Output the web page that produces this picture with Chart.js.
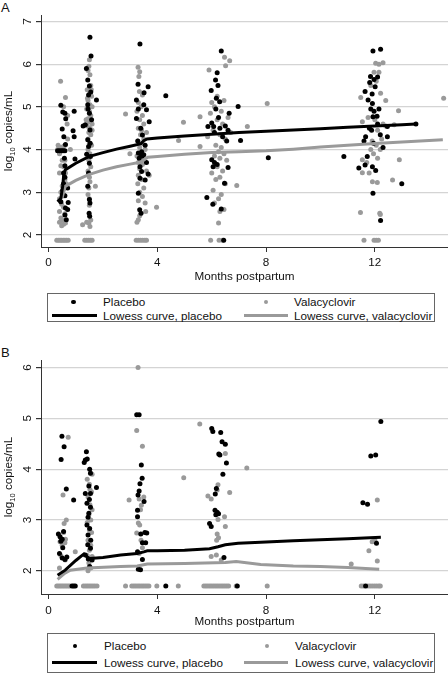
<!DOCTYPE html>
<html>
<head>
<meta charset="utf-8">
<script src="https://cdn.jsdelivr.net/npm/chart.js@4.4.1/dist/chart.umd.min.js"></script>
<style>
body { margin: 0; background: #fff; width: 448px; height: 673px; position: relative; overflow: hidden;
       font-family: "Liberation Sans", Arial, sans-serif; color: #111; }
canvas { position: absolute; left: 0; }
.tag { position: absolute; font-size: 13px; line-height: 13px; }
.legend { position: absolute; left: 47px; width: 388px; border: 1px solid #666; box-sizing: border-box; font-size: 11.7px; }
.legend span { position: absolute; white-space: nowrap; line-height: 14px; transform: translateY(-50%); }
.legend i { position: absolute; display: block; }
</style>
</head>
<body>
<div class="tag" style="left:1px;top:1px">A</div>
<canvas id="chartA" width="448" height="285" style="top:0"></canvas>
<div class="legend" style="top:293px;height:29px">
  <i style="left:23px;top:5.5px;width:4.5px;height:4.5px;border-radius:50%;background:#000"></i>
  <span style="left:55px;top:8px">Placebo</span>
  <i style="left:216px;top:5.5px;width:4px;height:4px;border-radius:50%;background:#9a9a9a"></i>
  <span style="left:246px;top:8px">Valacyclovir</span>
  <i style="left:4px;top:20px;width:45px;height:3px;background:#000"></i>
  <span style="left:55px;top:21.5px">Lowess curve, placebo</span>
  <i style="left:196px;top:20px;width:44px;height:3px;background:#9a9a9a"></i>
  <span style="left:246px;top:21.5px">Lowess curve, valacyclovir</span>
</div>

<div class="tag" style="left:1px;top:346px">B</div>
<canvas id="chartB" width="448" height="290" style="top:340px"></canvas>
<div class="legend" style="top:633px;height:40px">
  <i style="left:24.5px;top:9.5px;width:4.5px;height:4.5px;border-radius:50%;background:#000"></i>
  <span style="left:56px;top:12px">Placebo</span>
  <i style="left:216.5px;top:9.5px;width:4px;height:4px;border-radius:50%;background:#9a9a9a"></i>
  <span style="left:247px;top:12px">Valacyclovir</span>
  <i style="left:4px;top:27px;width:45px;height:3px;background:#000"></i>
  <span style="left:56px;top:28.5px">Lowess curve, placebo</span>
  <i style="left:196px;top:27px;width:44px;height:3px;background:#9a9a9a"></i>
  <span style="left:247px;top:28.5px">Lowess curve, valacyclovir</span>
</div>

<script>
// ---- axis ticks ----
const monthTicks = [0, 4, 8, 12];
const logTicksA = [2, 3, 4, 5, 6, 7];
const logTicksB = [2, 3, 4, 5, 6];

// ---- panel A: [months, log10 copies/mL] ----
const placeboA = [
  [0.45,5.04],[0.52,4.88],[0.6,4.85],[0.63,4.72],[0.5,4.48],[0.56,4.3],[0.62,4.12],[0.33,3.97],[0.4,3.97],[0.47,3.97],
  [0.53,3.97],[0.6,3.97],[0.58,3.8],[0.6,3.62],[0.55,3.45],[0.6,3.35],[0.55,3.2],[0.52,3.05],[0.6,2.92],[0.45,2.78],
  [0.72,2.76],[0.7,2.6],[0.62,2.63],[0.6,2.47],[0.65,2.36],[0.94,4.9],[0.9,4.44],[0.94,4.3],[0.97,3.78],[0.7,3.1],
  [1.52,6.63],[1.56,6.19],[1.39,5.9],[1.44,5.63],[1.5,5.49],[1.47,5.28],[1.76,5.16],[1.44,5.05],[1.5,4.85],[1.35,4.58],
  [1.52,4.46],[1.44,4.23],[1.53,4.15],[1.47,4.07],[1.4,3.89],[1.5,3.68],[1.47,3.45],[1.44,3.14],[1.5,2.83],[1.52,2.75],
  [1.49,2.51],[1.51,2.44],[1.55,5.35],[1.45,4.95],[1.58,4.7],[1.27,4.55],[1.54,3.84],
  [3.36,6.47],[3.29,5.53],[3.66,5.47],[4.31,5.26],[3.23,5.16],[3.51,5.33],[3.6,4.93],[3.23,4.73],[3.7,4.65],[3.39,4.5],
  [3.45,4.34],[3.3,3.92],[3.38,3.9],[3.45,3.85],[3.33,3.8],[3.42,3.95],[3.5,3.88],[3.36,3.6],[3.42,3.49],[3.66,3.43],
  [3.36,3.33],[3.55,3.29],[3.3,2.98],[3.35,2.59],[3.4,2.51],[3.5,5.05],[3.3,4.95],[3.55,4.1],[3.28,4.2],[3.6,3.7],
  [6.35,6.31],[6.2,5.8],[6.14,5.63],[6.23,5.5],[5.98,5.38],[6.17,5.2],[6.29,5.12],[6.97,5.01],[6.64,4.85],[6.07,4.54],
  [5.86,4.54],[6.3,4.5],[7.06,4.21],[6.0,4.62],[6.5,4.55],[6.1,4.4],[6.4,4.3],[6.55,4.2],[6.0,3.76],[6.1,3.7],
  [6.2,3.65],[6.05,3.6],[6.6,3.58],[6.47,3.21],[5.82,2.88],[6.04,2.72],[6.35,2.61],[6.44,1.88],[8.08,3.81],[6.25,4.75],
  [6.15,4.95],[6.6,4.45],
  [11.93,6.31],[12.21,6.35],[11.84,5.71],[11.97,5.64],[12.1,5.7],[11.81,5.57],[11.64,5.36],[12.01,5.47],[11.75,5.16],[11.91,5.08],
  [11.85,4.95],[11.97,4.9],[12.15,4.95],[12.08,4.78],[11.93,4.77],[13.51,4.6],[12.46,4.54],[11.8,4.5],[11.88,4.45],[11.66,4.3],
  [12.2,4.35],[12.46,4.3],[11.6,4.2],[11.95,4.15],[12.3,4.05],[11.72,3.84],[11.41,3.57],[11.64,3.64],[11.91,3.6],[12.03,3.51],
  [12.99,3.2],[11.93,2.98],[12.21,2.34],[10.86,3.84],[12.1,4.6],[11.9,5.3]
];
const valacyclovirA = [
  [0.44,5.6],[0.62,5.22],[0.55,5.0],[0.7,4.25],[0.35,4.1],[0.45,4.05],[0.55,4.08],[0.6,4.1],[0.5,4.02],[0.4,3.9],
  [0.5,3.75],[0.45,3.62],[0.55,3.6],[0.4,3.45],[0.6,3.3],[0.5,3.15],[0.65,3.2],[0.45,3.0],[0.55,2.95],[0.4,2.85],
  [0.48,2.72],[0.55,2.65],[0.4,2.55],[0.6,2.5],[0.45,2.4],[0.5,2.35],[0.4,2.3],[0.55,2.25],[0.48,2.22],[0.62,2.28],
  [0.68,4.6],[0.7,4.8],[0.33,4.0],[0.8,4.0],[0.6,3.75],[0.62,3.45],
  [0.3,1.88],[0.36,1.88],[0.42,1.88],[0.48,1.88],[0.54,1.88],[0.6,1.88],[0.66,1.88],[0.72,1.88],
  [1.5,6.1],[1.48,5.95],[1.45,5.85],[1.52,5.75],[1.55,5.5],[1.42,5.4],[1.5,5.3],[1.58,5.25],[1.45,5.15],[1.52,5.05],
  [1.6,5.0],[1.4,4.95],[1.5,4.9],[1.55,4.8],[1.45,4.72],[1.5,4.65],[1.6,4.6],[1.42,4.55],[1.52,4.5],[1.48,4.4],
  [1.55,4.35],[1.45,4.25],[1.5,4.15],[1.58,4.1],[1.45,4.0],[1.52,3.9],[1.48,3.75],[1.55,3.6],[1.45,3.5],[1.5,3.35],
  [1.52,3.25],[1.48,3.1],[1.72,3.14],[1.45,2.95],[1.5,2.85],[1.5,2.7],[1.25,2.24],[1.52,2.2],[1.48,2.28],[1.55,2.35],
  [1.4,2.3],[1.57,5.4],[1.43,5.2],[1.6,4.45],[1.38,4.7],
  [1.33,1.88],[1.4,1.88],[1.47,1.88],[1.54,1.88],[1.6,1.88],
  [3.29,5.93],[3.35,5.82],[3.32,5.71],[3.34,5.36],[3.45,5.28],[2.83,4.83],[4.96,4.64],[4.78,4.21],[3.97,2.65],[2.99,3.9],
  [3.3,5.1],[3.4,5.0],[3.25,4.9],[3.45,4.8],[3.35,4.7],[3.5,4.6],[3.3,4.5],[3.42,4.45],[3.38,4.35],[3.5,4.25],
  [3.28,4.2],[3.45,4.15],[3.35,4.05],[3.55,4.0],[3.25,3.85],[3.4,3.8],[3.48,3.75],[3.3,3.7],[3.45,3.65],[3.35,3.55],
  [3.6,3.5],[3.3,3.4],[3.42,3.3],[3.28,3.2],[3.5,3.1],[3.35,3.0],[3.45,2.9],[3.3,2.8],[3.55,2.75],[3.57,2.55],
  [3.35,2.45],[3.3,2.36],[3.25,2.3],[3.7,3.4],[3.6,4.4],
  [3.22,1.88],[3.3,1.88],[3.38,1.88],[3.46,1.88],[3.54,1.88],[3.6,1.88],
  [6.47,6.16],[6.66,6.08],[5.9,5.86],[6.51,5.96],[5.57,4.77],[5.57,4.07],[7.31,4.54],[6.92,3.16],[8.04,5.08],[6.25,2.28],
  [6.2,5.25],[6.0,5.1],[6.45,5.15],[6.1,5.0],[6.35,4.9],[5.95,4.85],[6.6,4.75],[6.2,4.7],[6.4,4.6],[6.05,4.45],
  [6.3,4.35],[6.5,4.25],[6.15,4.1],[6.35,4.05],[6.25,3.95],[6.45,3.9],[6.1,3.85],[6.3,3.8],[6.55,3.75],[6.2,3.6],
  [6.4,3.5],[6.0,3.45],[6.3,3.35],[6.15,3.3],[6.5,3.2],[6.05,3.05],[6.35,2.95],[6.25,2.85],[6.1,2.75],[6.45,2.6],
  [6.3,2.55],[6.7,4.4],[5.85,4.3],
  [5.96,1.88],[6.27,1.88],[6.4,1.88],
  [12.03,6.02],[12.15,6.0],[11.97,5.81],[12.15,5.81],[12.3,6.03],[12.21,5.32],[14.53,5.2],[12.87,4.91],[12.4,5.15],[11.54,4.65],
  [11.48,5.22],[12.71,4.58],[12.1,4.45],[12.25,4.25],[11.9,4.2],[12.05,4.1],[12.2,4.0],[11.85,4.0],[12.9,3.76],[12.65,3.29],
  [11.54,3.76],[11.79,3.45],[11.91,3.25],[12.09,3.23],[11.47,2.53],[12.18,2.51],[12.2,2.48],[11.54,3.46],[11.7,3.7],[11.95,3.9],
  [12.1,3.8],[12.3,4.6],[11.75,4.75],[12.0,4.7],[12.4,4.55],[11.85,5.5],[12.05,5.6],
  [11.6,1.88],[11.97,1.88],[12.05,1.88],[12.13,1.88]
];
const lowessPlaceboA = [
  [0.33,2.78],[0.45,2.86],[0.52,3.15],[0.56,3.45],[0.62,3.53],[1.0,3.68],[1.5,3.84],[2.0,3.93],[2.5,4.01],[3.0,4.08],
  [3.4,4.14],[3.5,4.21],[3.62,4.25],[4.0,4.27],[5.0,4.32],[6.0,4.36],[7.0,4.4],[8.0,4.43],[9.0,4.46],[10.0,4.49],
  [11.0,4.52],[12.0,4.55],[13.0,4.58],[13.51,4.6]
];
const lowessValacyclovirA = [
  [0.49,2.86],[0.55,3.0],[0.61,3.14],[1.0,3.28],[1.5,3.42],[2.0,3.52],[2.5,3.6],[3.0,3.66],[3.4,3.71],[3.55,3.78],
  [3.65,3.82],[4.0,3.84],[5.0,3.89],[6.0,3.93],[7.0,3.95],[8.0,3.97],[9.0,4.01],[10.0,4.06],[11.0,4.1],[12.0,4.14],
  [13.0,4.18],[14.5,4.23]
];

// ---- panel B ----
const placeboB = [
  [0.49,4.65],[0.57,4.44],[0.46,4.19],[0.65,3.61],[0.92,3.39],[0.36,2.72],[0.55,2.77],[0.42,2.67],[0.5,2.62],[0.4,2.34],
  [0.5,2.25],[0.6,2.22],[0.67,2.27],[0.45,2.58],[0.52,2.45],
  [0.86,1.7],[0.92,1.7],[0.98,1.7],
  [1.39,4.34],[1.35,4.18],[1.42,4.2],[1.31,4.13],[1.51,4.0],[1.54,3.92],[1.48,3.67],[1.76,3.64],[1.54,3.52],[1.35,3.52],
  [1.41,3.33],[1.54,3.25],[1.48,3.13],[1.41,2.9],[1.51,2.83],[1.45,2.7],[1.44,2.51],[1.54,2.44],[1.35,2.31],[1.46,2.23],
  [1.6,2.21],[1.51,2.08],[1.5,3.4],[1.45,3.05],[1.55,2.6],
  [3.24,5.07],[3.33,5.07],[3.41,4.08],[3.44,3.82],[3.36,3.71],[3.33,3.57],[3.29,3.49],[3.51,3.36],[3.27,3.19],[3.27,3.06],
  [3.54,2.75],[3.61,2.74],[3.39,2.72],[3.45,2.55],[3.57,2.55],[3.27,2.37],[3.45,2.22],[3.3,2.03],[3.38,2.02],
  [4.31,1.7],
  [6.0,4.8],[6.04,4.74],[6.33,4.72],[6.38,4.54],[6.5,4.49],[6.3,4.28],[6.26,4.3],[6.54,4.12],[6.41,3.9],[6.17,3.62],
  [6.13,3.51],[6.12,3.19],[6.2,3.15],[6.25,3.12],[6.15,3.1],[5.92,2.93],[5.98,2.87],[6.45,2.26],
  [6.94,1.7],
  [12.22,4.94],[11.85,4.26],[12.03,4.28],[11.56,3.34],[11.73,3.31],[12.06,2.54],
  [11.66,1.7]
];
const valacyclovirB = [
  [0.72,4.63],[0.53,3.49],[0.65,3.0],[0.57,2.93],[0.42,2.57],[0.55,2.6],[0.6,2.55],[0.5,2.5],[0.98,2.37],[0.61,2.21],
  [0.45,2.3],[0.4,2.05],[0.55,2.75],[0.62,2.62],
  [0.3,1.7],[0.36,1.7],[0.42,1.7],[0.48,1.7],[0.54,1.7],[0.6,1.7],[0.66,1.7],[0.72,1.7],[0.78,1.7],
  [1.55,3.92],[1.6,3.9],[1.42,3.8],[1.5,3.7],[1.58,3.55],[1.45,3.45],[1.52,3.3],[1.6,3.2],[1.48,3.1],[1.55,3.0],
  [1.42,2.95],[1.5,2.8],[1.58,2.75],[1.45,2.6],[1.55,2.5],[1.5,2.4],[1.42,2.3],[1.6,2.28],[1.48,2.15],[1.55,2.05],
  [1.45,2.0],[1.52,3.6],
  [1.28,1.7],[1.35,1.7],[1.42,1.7],[1.49,1.7],[1.56,1.7],[1.63,1.7],[1.7,1.7],[1.78,1.7],
  [3.29,6.0],[3.24,4.76],[3.45,4.45],[4.97,3.83],[2.96,3.39],[3.33,3.41],[3.41,3.29],[3.3,2.94],[3.35,2.9],[3.24,2.74],
  [3.33,2.34],[3.4,2.6],[3.5,3.45],[3.38,3.2],[3.45,2.45],
  [2.83,1.7],[3.06,1.7],[3.13,1.7],[3.2,1.7],[3.27,1.7],[3.34,1.7],[3.41,1.7],[3.48,1.7],[3.55,1.7],[3.62,1.7],
  [3.69,1.7],[3.98,1.7],[4.77,1.7],
  [5.56,4.89],[6.5,4.31],[6.23,3.69],[6.2,3.59],[5.86,3.47],[5.98,3.41],[6.66,3.54],[6.23,3.01],[6.47,3.06],[6.5,2.87],
  [6.2,2.72],[6.18,2.6],[5.98,2.28],[6.17,2.31],[6.35,2.21],[7.29,4.02],[6.25,2.65],
  [5.71,1.7],[5.78,1.7],[5.85,1.7],[5.92,1.7],[5.99,1.7],[6.06,1.7],[6.13,1.7],[6.2,1.7],[6.27,1.7],[6.34,1.7],
  [6.41,1.7],[6.48,1.7],[6.55,1.7],[6.62,1.7],[6.9,1.7],[8.04,1.7],
  [12.09,3.39],[11.9,2.57],[11.78,2.39],[12.09,2.19],[11.13,2.13],[12.0,2.6],
  [11.5,1.7],[11.58,1.7],[11.74,1.7],[11.82,1.7],[11.9,1.7],[11.98,1.7],[12.06,1.7],[12.14,1.7],[12.2,1.7]
];
const lowessPlaceboB = [
  [0.33,1.91],[0.61,2.01],[1.0,2.2],[1.3,2.33],[1.42,2.27],[1.51,2.24],[2.0,2.26],[2.65,2.31],[3.26,2.34],[3.5,2.37],
  [3.63,2.39],[4.0,2.39],[5.0,2.4],[5.92,2.43],[6.23,2.47],[6.5,2.51],[6.97,2.54],[7.8,2.56],[9.0,2.59],[10.0,2.61],
  [11.0,2.63],[12.22,2.66]
];
const lowessValacyclovirB = [
  [0.33,1.83],[0.6,1.95],[0.8,2.01],[1.41,2.05],[2.65,2.08],[3.26,2.09],[3.63,2.13],[5.0,2.14],[6.5,2.16],[6.9,2.18],
  [7.8,2.12],[9.0,2.09],[10.0,2.08],[11.0,2.06],[12.16,2.03]
];

const FONT = '"Liberation Sans", Arial, sans-serif';
const GREY = '#9a9a9a';

function toXY(pairs) {
    return pairs.map(p => ({x: p[0], y: p[1]}));
}

// rotated y tick labels and the y title with a subscript
const stataYAxis = {
    id: 'stataYAxis',
    afterDraw(chart) {
        let ctx = chart.ctx;
        let yScale = chart.scales.y;
        ctx.save();
        ctx.fillStyle = '#111';
        ctx.textAlign = 'center';
        ctx.textBaseline = 'middle';
        ctx.font = '11.7px ' + FONT;
        yScale.ticks.forEach(t => {
            ctx.save();
            ctx.translate(28, yScale.getPixelForValue(t.value));
            ctx.rotate(-Math.PI / 2);
            ctx.fillText(String(t.value), 0, 0);
            ctx.restore();
        });

        let mid = (chart.chartArea.top + chart.chartArea.bottom) / 2;
        ctx.translate(9, mid);
        ctx.rotate(-Math.PI / 2);
        ctx.textAlign = 'left';
        ctx.font = '11.7px ' + FONT;
        let w1 = ctx.measureText('log').width;
        let w3 = ctx.measureText(' copies/mL').width;
        ctx.font = '7.5px ' + FONT;
        let w2 = ctx.measureText('10').width;
        let x = -(w1 + w2 + w3) / 2;
        ctx.font = '11.7px ' + FONT;
        ctx.fillText('log', x, 0);
        ctx.font = '7.5px ' + FONT;
        ctx.fillText('10', x + w1, 3.5);
        ctx.font = '11.7px ' + FONT;
        ctx.fillText(' copies/mL', x + w1 + w2, 0);
        ctx.restore();
    }
};

function createPanel(canvasId, panel) {
    let canvas = document.getElementById(canvasId);
    return new Chart(canvas, {
        type: 'scatter',
        data: {
            datasets: [
                { data: toXY(panel.lowessPlacebo), showLine: true, pointRadius: 0, borderColor: '#000', borderWidth: 3, tension: 0 },
                { data: toXY(panel.lowessValacyclovir), showLine: true, pointRadius: 0, borderColor: GREY, borderWidth: 3, tension: 0 },
                { data: toXY(panel.placebo), pointRadius: 2.5, borderWidth: 0, backgroundColor: '#000' },
                { data: toXY(panel.valacyclovir), pointRadius: 2.5, borderWidth: 0, backgroundColor: GREY }
            ]
        },
        options: {
            responsive: false,
            animation: false,
            events: [],
            layout: { autoPadding: false, padding: { top: panel.padTop, left: 0, right: 0, bottom: 0 } },
            plugins: { legend: { display: false }, tooltip: { enabled: false } },
            scales: {
                x: {
                    type: 'linear',
                    min: -0.28,
                    max: 14.69,
                    afterBuildTicks: s => { s.ticks = monthTicks.map(v => ({ value: v })); },
                    afterFit: s => { s.height = panel.xHeight; },
                    grid: { drawOnChartArea: false, drawTicks: true, tickLength: 5, tickColor: '#333' },
                    border: { color: '#333', width: 1 },
                    ticks: { color: '#111', font: { family: FONT, size: 11.7 }, padding: panel.tickPad, maxRotation: 0 },
                    title: { display: true, text: 'Months postpartum', color: '#111',
                             font: { family: FONT, size: 11.7 }, padding: { top: 0, bottom: panel.titlePad } }
                },
                y: {
                    type: 'linear',
                    min: panel.yMin,
                    max: panel.yMax,
                    afterBuildTicks: s => { s.ticks = panel.yTicks.map(v => ({ value: v })); },
                    afterFit: s => { s.width = 41; },
                    grid: { color: '#d4d4d4', lineWidth: 1.2, tickLength: 5, tickColor: '#333' },
                    border: { color: '#333', width: 1 },
                    ticks: { display: false }
                }
            }
        },
        plugins: [stataYAxis]
    });
}

createPanel('chartA', {
    placebo: placeboA, valacyclovir: valacyclovirA,
    lowessPlacebo: lowessPlaceboA, lowessValacyclovir: lowessValacyclovirA,
    yMin: 1.72, yMax: 7.15, yTicks: logTicksA, padTop: 15, xHeight: 38, tickPad: 4, titlePad: 1
});

createPanel('chartB', {
    placebo: placeboB, valacyclovir: valacyclovirB,
    lowessPlacebo: lowessPlaceboB, lowessValacyclovir: lowessValacyclovirB,
    yMin: 1.54, yMax: 6.15, yTicks: logTicksB, padTop: 20, xHeight: 36, tickPad: 5, titlePad: 1
});
</script>
</body>
</html>
